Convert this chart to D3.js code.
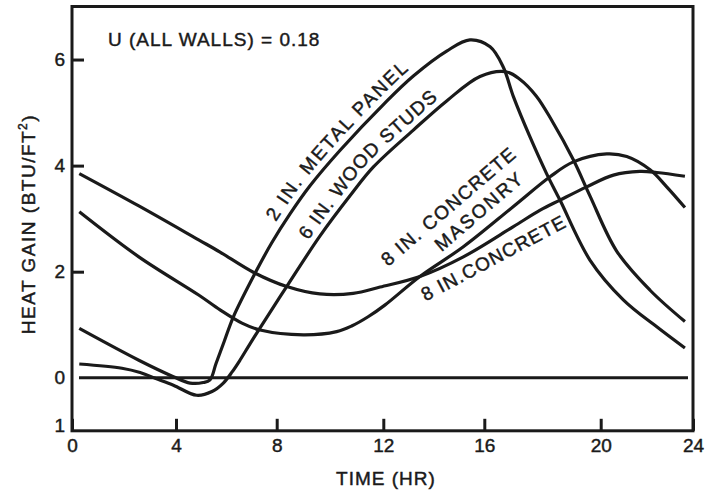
<!DOCTYPE html>
<html>
<head>
<meta charset="utf-8">
<script src="https://cdn.jsdelivr.net/npm/d3@7"></script>
<style>
  html, body { margin: 0; padding: 0; background: #fff; }
  svg { display: block; }
  text {
    font-family: "Liberation Sans", Arial, Helvetica, sans-serif;
    fill: #1a1a1a; stroke: #1a1a1a; stroke-width: 0.45px;
  }
</style>
</head>
<body>
<svg id="chart" width="707" height="491"></svg>
<script>
// Hourly heat gain through four wall constructions, [hour, BTU/ft²]
const metalPanel = [
  [0.28, 0.93], [2.57, 0.33], [3.90, 0.02], [4.56, -0.10], [5.08, -0.09], [5.35, -0.04],
  [5.59, 0.27], [5.91, 0.68], [6.28, 1.15], [7.14, 1.97], [7.81, 2.55], [8.50, 3.09],
  [9.25, 3.62], [10.38, 4.29], [12.06, 5.18], [13.19, 5.69], [14.51, 6.16], [15.43, 6.37],
  [16.20, 6.24], [16.65, 5.86], [17.00, 5.30], [17.57, 4.54], [18.14, 3.85], [18.60, 3.35],
  [19.63, 2.22], [20.98, 1.47], [22.43, 0.96], [23.65, 0.56]
];
const woodStuds = [
  [0.28, 0.26], [1.92, 0.18], [2.62, 0.10], [3.20, -0.01], [3.90, -0.14], [4.82, -0.33],
  [5.43, -0.26], [5.88, -0.10], [6.23, 0.11], [6.54, 0.33], [6.94, 0.64], [7.34, 0.94],
  [8.44, 1.77], [9.62, 2.67], [10.75, 3.43], [11.62, 3.97], [13.19, 4.67], [14.51, 5.22],
  [15.83, 5.68], [16.74, 5.77], [17.22, 5.63], [17.79, 5.31], [18.31, 4.86], [19.06, 4.11],
  [19.63, 3.43], [20.69, 2.39], [22.14, 1.65], [23.65, 1.06]
];
const concreteMasonry = [
  [0.28, 3.13], [2.57, 2.28], [4.90, 1.56], [5.75, 1.28], [6.62, 1.03], [7.34, 0.90],
  [9.00, 0.81], [10.25, 0.87], [10.83, 0.98], [11.43, 1.15], [12.06, 1.37], [13.45, 1.91],
  [15.17, 2.47], [17.00, 3.23], [18.26, 3.79], [19.06, 4.07], [20.26, 4.22], [21.13, 4.17],
  [22.14, 3.92], [22.86, 3.60], [23.65, 3.21]
];
const concrete = [
  [0.28, 3.85], [2.57, 3.24], [4.90, 2.60], [5.75, 2.37], [7.07, 1.99], [8.38, 1.72],
  [9.62, 1.58], [10.87, 1.59], [11.88, 1.71], [13.45, 1.91], [15.17, 2.28], [17.00, 2.85],
  [17.92, 3.16], [18.60, 3.35], [19.52, 3.60], [20.55, 3.82], [21.70, 3.89], [22.43, 3.87],
  [23.65, 3.80]
];

const xTickValues = [0, 4, 8, 12, 16, 20, 24];
const yTickValues = [6, 4, 2, 0, -1];
const yTickLabels = ["6", "4", "2", "0", "1"];
const yMarkValues = [6, 4, 2];

const metalLabel = "2 IN. METAL PANEL";
const woodLabel = "6 IN. WOOD STUDS";
const masonryLabel = ["8 IN. CONCRETE", "MASONRY"];
const concreteLabel = "8 IN.CONCRETE";
const noteText = "U (ALL WALLS) = 0.18";

// ---- layout ----
const plot = { left: 72, right: 693, top: 6.5, bottom: 430.8 };
const ink = "#1a1a1a";

const svg = d3.select("#chart");
svg.append("rect").attr("width", 707).attr("height", 491).attr("fill", "#fff");

// the hour axis is ruled with slightly uneven tick spacing
const x = d3.scaleLinear()
  .domain(xTickValues)
  .range([plot.left, 176, 276.7, 383.3, 484.3, 600.7, plot.right]);
const y = d3.scaleLinear().domain([-1, 7]).range([plot.bottom, plot.top]);

// frame
svg.append("rect")
  .attr("x", plot.left).attr("y", plot.top)
  .attr("width", plot.right - plot.left).attr("height", plot.bottom - plot.top)
  .attr("fill", "none").attr("stroke", ink).attr("stroke-width", 3);

// zero reference line
svg.append("line")
  .attr("x1", 79).attr("x2", 688)
  .attr("y1", y(0)).attr("y2", y(0))
  .attr("stroke", ink).attr("stroke-width", 3);

// x axis: inward ticks + labels
const xAxis = svg.append("g")
  .attr("transform", `translate(0,${plot.bottom})`)
  .call(d3.axisBottom(x).tickValues(xTickValues).tickSizeInner(-12).tickSizeOuter(0).tickPadding(8));
xAxis.select(".domain").remove();
xAxis.selectAll(".tick line").attr("stroke", ink).attr("stroke-width", 3);
xAxis.selectAll(".tick text")
  .attr("font-size", 19).attr("fill", ink).style("font-family", "Liberation Sans, Arial, sans-serif");

// y axis labels
const yAxis = svg.append("g")
  .attr("transform", `translate(${plot.left},0)`)
  .call(d3.axisLeft(y).tickValues(yTickValues)
    .tickFormat((d, i) => yTickLabels[i]).tickSize(0).tickPadding(7));
yAxis.select(".domain").remove();
yAxis.selectAll(".tick text")
  .attr("font-size", 19).attr("fill", ink).style("font-family", "Liberation Sans, Arial, sans-serif");
yAxis.selectAll(".tick").filter(d => d === -1)
  .attr("transform", `translate(0,${y(-1) - 5})`);

// y axis inward tick marks
const yMarks = svg.append("g")
  .attr("transform", `translate(${plot.left},0)`)
  .call(d3.axisLeft(y).tickValues(yMarkValues).tickSizeInner(-12).tickSizeOuter(0).tickFormat(""));
yMarks.select(".domain").remove();
yMarks.selectAll(".tick line").attr("stroke", ink).attr("stroke-width", 3);

// curves
const line = d3.line()
  .x(d => x(d[0]))
  .y(d => y(d[1]))
  .curve(d3.curveCatmullRom.alpha(0.5));

const paths = {};
[["metal", metalPanel], ["wood", woodStuds], ["masonry", concreteMasonry], ["concrete", concrete]]
  .forEach(([key, s]) => {
    paths[key] = svg.append("path")
      .attr("d", line(s))
      .attr("fill", "none")
      .attr("stroke", ink)
      .attr("stroke-width", 3.2)
      .attr("stroke-linejoin", "round")
      .node();
  });

// label that bends with its curve: text set on a path offset from the curve
const defs = svg.append("defs");
function curveLabel(pathNode, id, text, centerHour, offset, len) {
  const total = pathNode.getTotalLength();
  const pts = d3.range(0, total, 1).map(s => pathNode.getPointAtLength(s));
  const cx = x(centerHour);
  const ci = d3.minIndex(pts, p => Math.abs(p.x - cx));
  const half = Math.ceil(len / 2 + 30);
  const i0 = Math.max(1, ci - half), i1 = Math.min(pts.length - 2, ci + half);
  const shifted = [];
  for (let i = i0; i <= i1; i++) {
    const dx = pts[i + 1].x - pts[i - 1].x, dy = pts[i + 1].y - pts[i - 1].y;
    const n = Math.hypot(dx, dy) || 1;
    // normal on the upper side of a left-to-right curve
    shifted.push([pts[i].x + offset * dy / n, pts[i].y - offset * dx / n]);
  }
  defs.append("path").attr("id", id).attr("d", d3.line()(shifted));
  svg.append("text")
    .attr("font-size", 19)
    .attr("textLength", len)
    .attr("lengthAdjust", "spacing")
    .append("textPath")
    .attr("href", "#" + id)
    .attr("startOffset", "50%")
    .attr("text-anchor", "middle")
    .text(text);
}
curveLabel(paths.metal, "metal-label-path", metalLabel, 10.5, 7.5, 203);
curveLabel(paths.wood, "wood-label-path", woodLabel, 11.58, 7, 193);

// straight labels for the two concrete walls
const straightLabels = [
  { text: masonryLabel[0], cx: 448, cy: 206.5, angle: -40.6, len: 170 },
  { text: masonryLabel[1], cx: 478.3, cy: 211.5, angle: -40.7, len: 109 },
  { text: concreteLabel, cx: 493, cy: 258, angle: -28, len: 160 }
];
straightLabels.forEach(p => {
  svg.append("text")
    .attr("transform", `translate(${p.cx},${p.cy}) rotate(${p.angle})`)
    .attr("text-anchor", "middle")
    .attr("dy", "0.36em")
    .attr("font-size", 19)
    .attr("textLength", p.len)
    .attr("lengthAdjust", "spacing")
    .text(p.text);
});

// wall U-value note
svg.append("text")
  .attr("x", 108).attr("y", 46)
  .attr("font-size", 19)
  .attr("letter-spacing", 1)
  .text(noteText);

// axis titles
svg.append("text")
  .attr("x", 386).attr("y", 485)
  .attr("text-anchor", "middle")
  .attr("font-size", 19)
  .attr("letter-spacing", 1)
  .text("TIME (HR)");

const yTitle = svg.append("text")
  .attr("transform", "translate(35,224) rotate(-90)")
  .attr("text-anchor", "middle")
  .attr("font-size", 19)
  .attr("letter-spacing", 1.5);
yTitle.append("tspan").text("HEAT GAIN (BTU/FT");
yTitle.append("tspan").attr("font-size", 12).attr("dy", -8).text("2");
yTitle.append("tspan").attr("dy", 8).text(")");
</script>
</body>
</html>
